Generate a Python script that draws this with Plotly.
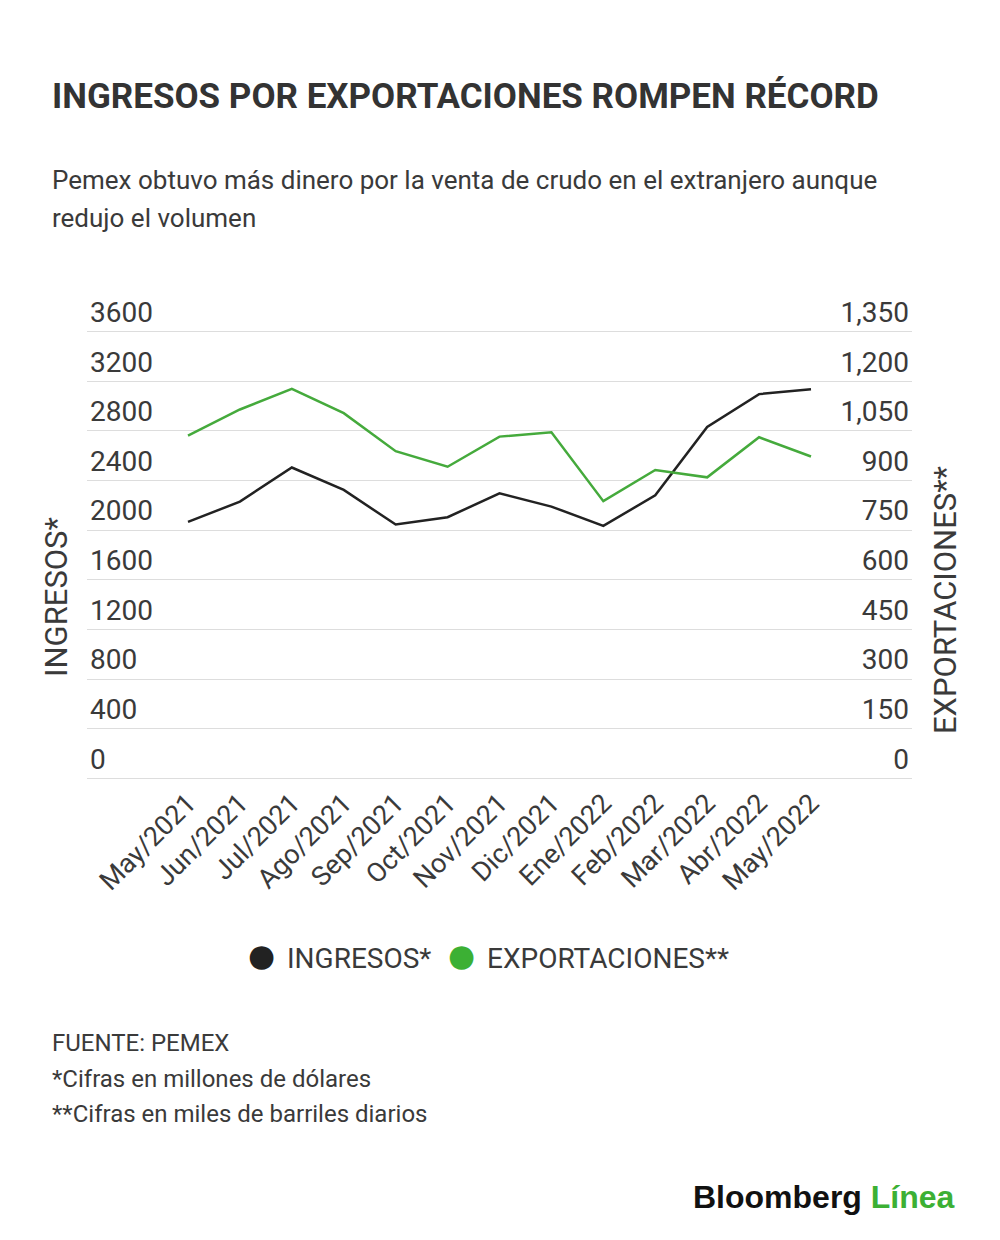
import plotly.graph_objects as go

months = ["May/2021", "Jun/2021", "Jul/2021", "Ago/2021", "Sep/2021", "Oct/2021",
          "Nov/2021", "Dic/2021", "Ene/2022", "Feb/2022", "Mar/2022", "Abr/2022", "May/2022"]
ingresos = [2067, 2231, 2506, 2325, 2046, 2105, 2298, 2191, 2035, 2282, 2833, 3097, 3137]
exportaciones = [1036, 1115, 1177, 1104, 989, 942, 1033, 1046, 838, 932, 910, 1031, 973]

left_ticks = [0, 400, 800, 1200, 1600, 2000, 2400, 2800, 3200, 3600]
right_ticks = [0, 150, 300, 450, 600, 750, 900, 1050, 1200, 1350]
right_ticktext = ["0", "150", "300", "450", "600", "750", "900", "1,050", "1,200", "1,350"]
series_names = ["INGRESOS*", "EXPORTACIONES**"]

BLACK = "#222222"
GREEN = "#45aa3c"
LEG_GREEN = "#3cb034"
TXT = "#3a3a3a"
FONT = "Roboto"

OFF = 8  # page body margin
W, H = 1000 - OFF * 2, 1240 - OFF * 2
# plot area in page pixels
L, R, T, B = 87, 912, 295, 781
Y0, Y3600 = 778.5, 331.7  # page pixel of gridline 0 and top gridline
ppu_l = (Y0 - Y3600) / 3600.0
ppu_r = (Y0 - Y3600) / 1350.0
yl_range = [-(B - Y0) / ppu_l, (Y0 - T) / ppu_l]
yr_range = [-(B - Y0) / ppu_r, (Y0 - T) / ppu_r]


def px(x):
    return (x - L) / (R - L)


def py(y):
    return (B - y) / (B - T)


fig = go.Figure()
fig.add_trace(go.Scatter(x=months, y=ingresos, mode="lines", name=series_names[0],
                         line=dict(color=BLACK, width=2.5), yaxis="y"))
fig.add_trace(go.Scatter(x=months, y=exportaciones, mode="lines", name=series_names[1],
                         line=dict(color=GREEN, width=2.5), yaxis="y2"))

step = (811 - 188) / 12.0
pad_l = (188 - L) / step
pad_r = (R - 811) / step

LX = 50
annotations = [
    dict(text="<b>INGRESOS POR EXPORTACIONES ROMPEN RÉCORD</b>", x=px(LX), y=py(97),
         font=dict(size=35, color="#333333", family=FONT)),
    dict(text="Pemex obtuvo más dinero por la venta de crudo en el extranjero aunque",
         x=px(LX), y=py(180), font=dict(size=26, color=TXT, family=FONT)),
    dict(text="redujo el volumen", x=px(LX), y=py(218), font=dict(size=26, color=TXT, family=FONT)),
    dict(text="FUENTE: PEMEX", x=px(LX), y=py(1043), font=dict(size=24, color=TXT, family=FONT)),
    dict(text="*Cifras en millones de dólares", x=px(LX), y=py(1079),
         font=dict(size=24, color=TXT, family=FONT)),
    dict(text="**Cifras en miles de barriles diarios", x=px(LX), y=py(1114),
         font=dict(size=24, color=TXT, family=FONT)),
    # legend labels
    dict(text=series_names[0], x=px(285), y=py(958), font=dict(size=28, color=TXT, family=FONT)),
    dict(text=series_names[1], x=px(485), y=py(958), font=dict(size=28, color=TXT, family=FONT)),
]
for a in annotations:
    a.update(xref="paper", yref="paper", xanchor="left", yanchor="middle", showarrow=False)

annotations += [
    # legend circles
    dict(text="●", x=px(261), y=py(955), xref="paper", yref="paper", xanchor="center",
         yanchor="middle", showarrow=False, font=dict(size=31, color=BLACK, family="DejaVu Sans")),
    dict(text="●", x=px(461), y=py(955), xref="paper", yref="paper", xanchor="center",
         yanchor="middle", showarrow=False, font=dict(size=31, color=LEG_GREEN, family="DejaVu Sans")),
    dict(text=series_names[0], x=px(56), y=py(597), xref="paper", yref="paper", textangle=-90,
         xanchor="center", yanchor="middle", showarrow=False,
         font=dict(size=31, color=TXT, family=FONT)),
    dict(text=series_names[1], x=px(945), y=py(600), xref="paper", yref="paper", textangle=-90,
         xanchor="center", yanchor="middle", showarrow=False,
         font=dict(size=31, color=TXT, family=FONT)),
    dict(text="<b>Bloomberg</b> <b><span style='color:#3cb034'>Línea</span></b>",
         x=px(957), y=py(1197), xref="paper", yref="paper", xanchor="right", yanchor="middle",
         showarrow=False, font=dict(size=32, color="#111111", family="Liberation Sans")),
]

fig.update_layout(
    width=W, height=H,
    margin=dict(l=L - OFF, r=(1000 - OFF) - R, t=T - OFF, b=(1240 - OFF) - B, pad=0),
    paper_bgcolor="white", plot_bgcolor="white",
    font=dict(family=FONT, color=TXT),
    xaxis=dict(type="category", range=[-pad_l, 12 + pad_r], showgrid=False, zeroline=False,
               showline=False, ticks="", tickangle=-45,
               tickfont=dict(size=27, color=TXT, family=FONT)),
    yaxis=dict(range=yl_range, tickvals=left_ticks, ticktext=[str(v) for v in left_ticks],
               showgrid=True, gridcolor="#dddddd", gridwidth=1, zeroline=False, showline=False,
               ticks="", ticklabelposition="inside top",
               tickfont=dict(size=28, color=TXT, family=FONT)),
    yaxis2=dict(range=yr_range, tickvals=right_ticks, ticktext=right_ticktext,
                overlaying="y", side="right", showgrid=False, zeroline=False, showline=False,
                ticks="", ticklabelposition="inside top",
                tickfont=dict(size=28, color=TXT, family=FONT)),
    annotations=annotations,
    showlegend=False,
)

fig.write_html("out.html")
